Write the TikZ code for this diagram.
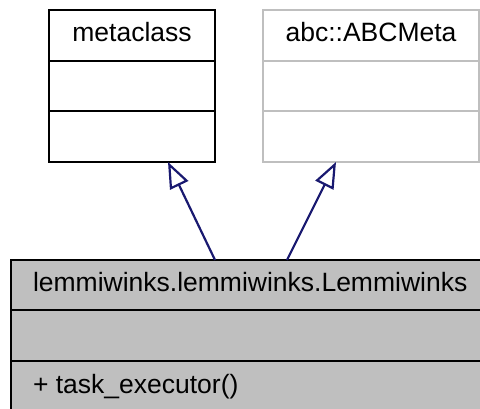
\documentclass[tikz,border=0pt]{standalone}
\usepackage{fontspec}
\setmainfont{Liberation Sans}
\usetikzlibrary{arrows.meta,calc}
\definecolor{gfill}{HTML}{BFBFBF}
\definecolor{edgeblue}{HTML}{191970}
\tikzset{
  umlbox/.style={draw, line width=2.2pt, rectangle, inner sep=0pt, outer sep=0pt, anchor=north west},
  lbl/.style={inner sep=0pt, outer sep=0pt, font=\fontsize{26.5}{31}\selectfont},
  inherit/.style={draw=edgeblue, line width=2.2pt, -{Triangle[open, length=26pt, width=20pt]}},
}
\begin{document}
\begin{tikzpicture}[x=1pt, y=-1pt]
  \useasboundingbox (0,0) rectangle (480,409);
  \clip (0,0) rectangle (480,409);
  % metaclass
  \node[umlbox, minimum width=166pt, minimum height=152pt] (meta) at (49,10) {};
  \draw[line width=2.2pt] (49,61) -- (215,61) (49,111) -- (215,111);
  \node[lbl, anchor=base] (metat) at (132,42) {metaclass};
  % abc::ABCMeta
  \node[umlbox, draw=gfill, minimum width=216pt, minimum height=152pt] (abc) at (263,10) {};
  \draw[line width=2.2pt, gfill] (263,61) -- (479,61) (263,111) -- (479,111);
  \node[lbl, anchor=base] (abct) at (371,42) {abc::ABCMeta};
  % Lemmiwinks
  \node[umlbox, fill=gfill, minimum width=480pt, minimum height=154pt] (lem) at (11,260) {};
  \draw[line width=2.2pt] (11,310) -- (491,310) (11,361) -- (491,361);
  \node[lbl, anchor=base west] (lemt) at (33,291) {lemmiwinks.lemmiwinks.Lemmiwinks};
  \node[lbl, anchor=base west] (lemm) at (33,393) {+ task\_executor()};
  % inheritance
  \draw[inherit] ($(lem.north west)+(204,0)$) -- ($(meta.south west)+(119,0)$);
  \draw[inherit] ($(lem.north west)+(276,0)$) -- ($(abc.south west)+(73,0)$);
\end{tikzpicture}
\end{document}
